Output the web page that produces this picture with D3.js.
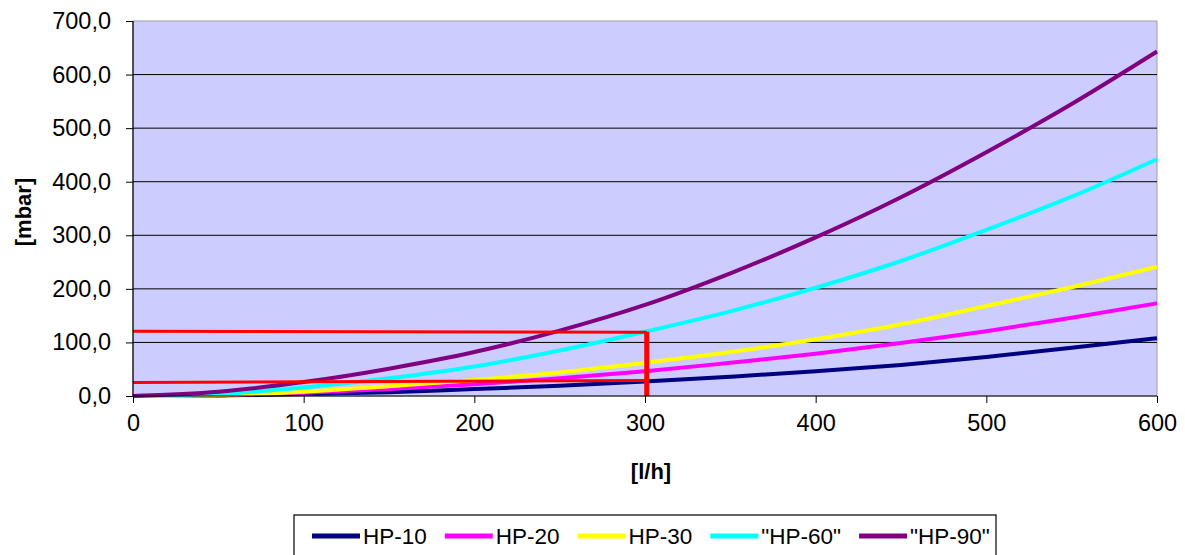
<!DOCTYPE html>
<html>
<head>
<meta charset="utf-8">
<script src="https://cdn.jsdelivr.net/npm/d3@7"></script>
<style>
	body { margin: 0; background: #fff; }
	text { font-family: "Liberation Sans", Arial, sans-serif; fill: #000; }
</style>
</head>
<body>
<svg id="chart" width="1185" height="555"></svg>
<script>
// Flow rate [l/h] and pressure loss [mbar]
var flow = [0, 50, 100, 150, 200, 250, 300, 350, 400, 450, 500, 550, 600];
var hp10 = [0, 1, 3.5, 7, 13, 19, 27, 36, 46, 58, 73, 90, 108];
var hp20 = [0, 1.5, 6, 13, 22, 33, 46, 62, 79, 99, 121, 146, 173];
var hp30 = [0, 2, 8, 18, 30, 44, 62, 82, 106, 134, 168, 203, 241];
var hp60 = [0, 4, 16, 33, 55, 85, 120, 158, 202, 252, 310, 372, 442];
var hp90 = [0, 8, 26, 51, 82, 122, 170, 229, 296, 371, 455, 545, 643];

var seriesNames = ['HP-10', 'HP-20', 'HP-30', '"HP-60"', '"HP-90"'];
var seriesValues = [hp10, hp20, hp30, hp60, hp90];
var seriesColors = ['#000080', '#ff00ff', '#ffff00', '#00ffff', '#800080'];

var xTicks = [0, 100, 200, 300, 400, 500, 600];
var yTicks = [0, 100, 200, 300, 400, 500, 600, 700];

// Red reading lines (data coordinates)
var readLines = [
	{ x1: 0, y1: 121, x2: 301, y2: 119, w: 3 },
	{ x1: 0, y1: 25, x2: 301, y2: 29, w: 3 },
	{ x1: 301, y1: 0, x2: 301, y2: 120, w: 5 }
];

var margin = { top: 21, right: 28, bottom: 159, left: 133 };
var width = 1185 - margin.left - margin.right;
var height = 555 - margin.top - margin.bottom;

var svg = d3.select('#chart');
var g = svg.append('g')
	.attr('transform', 'translate(' + margin.left + ',' + margin.top + ')');

var x = d3.scaleLinear().domain([0, 600]).range([0, width]);
var y = d3.scaleLinear().domain([0, 700]).range([height, 0]);

var comma = d3.formatLocale({ decimal: ',', thousands: '.', grouping: [3], currency: ['', ''] }).format('.1f');

// Plot area
g.append('rect')
	.attr('width', width)
	.attr('height', height)
	.attr('fill', '#ccccff')
	.attr('stroke', '#a0a0a0')
	.attr('stroke-width', 1);

// Gridlines
g.selectAll('.grid')
	.data(yTicks.slice(1, -1))
	.enter().append('line')
	.attr('x1', 0)
	.attr('x2', width)
	.attr('y1', function(d) { return y(d); })
	.attr('y2', function(d) { return y(d); })
	.attr('stroke', '#000')
	.attr('stroke-width', 1);

// Curves
var line = d3.line()
	.x(function(d, i) { return x(flow[i]); })
	.y(function(d) { return y(d); })
	.curve(d3.curveMonotoneX);

seriesValues.forEach(function(vals, i) {
	g.append('path')
		.attr('d', line(vals))
		.attr('fill', 'none')
		.attr('stroke', seriesColors[i])
		.attr('stroke-width', 4);
});

// Reading lines
g.selectAll('.read')
	.data(readLines)
	.enter().append('line')
	.attr('x1', function(d) { return x(d.x1); })
	.attr('x2', function(d) { return x(d.x2); })
	.attr('y1', function(d) { return y(d.y1); })
	.attr('y2', function(d) { return y(d.y2); })
	.attr('stroke', '#ff0000')
	.attr('stroke-width', function(d) { return d.w; });

// Axes
var xAxis = g.append('g')
	.attr('transform', 'translate(0,' + height + ')')
	.call(d3.axisBottom(x).tickValues(xTicks).tickSize(7).tickPadding(11).tickFormat(d3.format('d')));

var yAxis = g.append('g')
	.call(d3.axisLeft(y).tickValues(yTicks).tickSize(7).tickPadding(15).tickFormat(comma));

[xAxis, yAxis].forEach(function(a) {
	a.select('.domain').attr('stroke', '#000').attr('stroke-width', 1.2);
	a.selectAll('.tick line').attr('stroke', '#000');
	a.selectAll('text')
		.style('font-family', '"Liberation Sans", Arial, sans-serif')
		.style('font-size', '23.5px')
		.attr('fill', '#000');
});
yAxis.select('.domain').attr('d', 'M0,' + height + 'V0');
xAxis.select('.domain').attr('d', 'M0,0H' + width);

// Axis titles
svg.append('text')
	.attr('transform', 'translate(31,212) rotate(-90)')
	.attr('text-anchor', 'middle')
	.style('font-size', '22px')
	.style('font-weight', 'bold')
	.text('[mbar]');

svg.append('text')
	.attr('x', 651)
	.attr('y', 479)
	.attr('text-anchor', 'middle')
	.style('font-size', '22px')
	.style('font-weight', 'bold')
	.text('[l/h]');

// Legend
var legend = svg.append('g');
legend.append('rect')
	.attr('x', 294)
	.attr('y', 515)
	.attr('width', 702)
	.attr('height', 45)
	.attr('fill', '#fff')
	.attr('stroke', '#000')
	.attr('stroke-width', 1.2);

var cursor = 312;
seriesNames.forEach(function(name, i) {
	legend.append('line')
		.attr('x1', cursor)
		.attr('x2', cursor + 48)
		.attr('y1', 536)
		.attr('y2', 536)
		.attr('stroke', seriesColors[i])
		.attr('stroke-width', 5);
	var t = legend.append('text')
		.attr('x', cursor + 51)
		.attr('y', 544)
		.style('font-size', '22.5px')
		.text(name);
	cursor += 51 + t.node().getComputedTextLength() + 18;
});
</script>
</body>
</html>
